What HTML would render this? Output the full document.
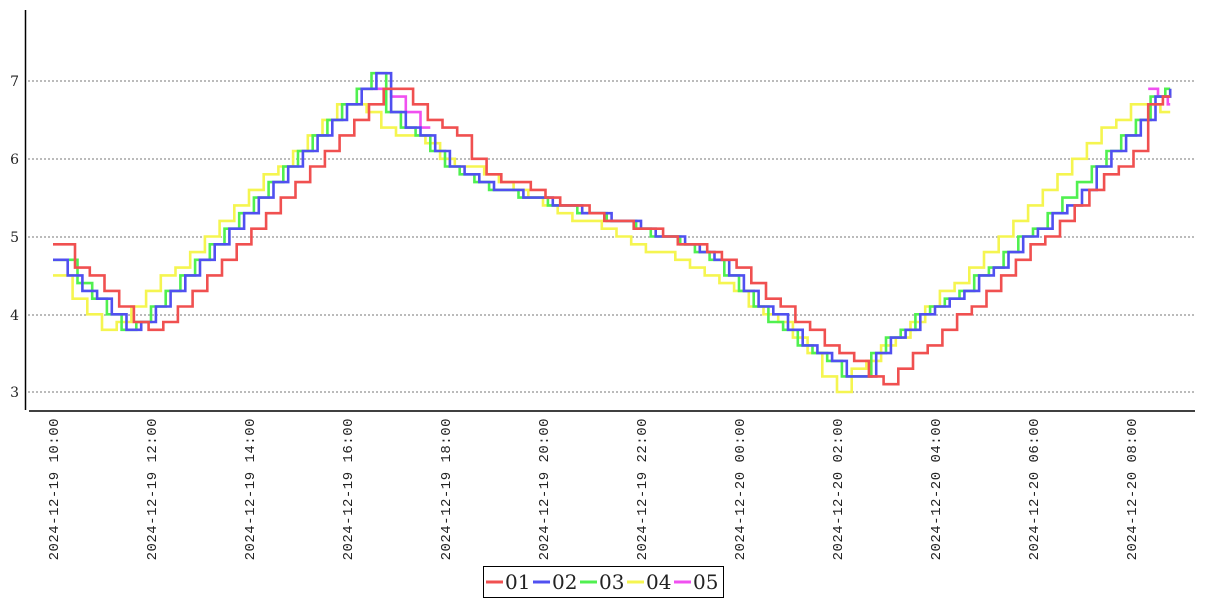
<!DOCTYPE html>
<html><head><meta charset="utf-8"><style>
html,body{margin:0;padding:0;background:#fff;}
svg{display:block;font-family:"DejaVu Serif","Liberation Serif",serif;}
</style></head><body>
<svg id="s" width="1207" height="600" viewBox="0 0 1207 600">
<g stroke="#777" stroke-width="1" stroke-dasharray="2,2">
<line x1="28" y1="81" x2="1195" y2="81"/><line x1="28" y1="159" x2="1195" y2="159"/>
<line x1="28" y1="237" x2="1195" y2="237"/><line x1="28" y1="315" x2="1195" y2="315"/>
<line x1="28" y1="392" x2="1195" y2="392"/></g>
<g font-size="14" fill="#222" text-anchor="end">
<text x="19" y="86">7</text><text x="19" y="164">6</text><text x="19" y="242">5</text><text x="19" y="320">4</text><text x="19" y="397">3</text></g>
<line x1="25.5" y1="10" x2="25.5" y2="410" stroke="#000" stroke-width="1.5"/>
<line x1="29" y1="411" x2="1195" y2="411" stroke="#000" stroke-width="1.5"/>
<g id="lines" fill="none" stroke-width="2.6" stroke-linejoin="miter"></g>
<g id="xl" font-size="14" fill="#222" text-anchor="end" style="font-family:'Liberation Mono',monospace;letter-spacing:0.5px"></g>
<rect x="483.5" y="566.5" width="240" height="31" fill="#fff" stroke="#000"/>
<g font-size="20" fill="#222">
<line x1="486" y1="582" x2="503" y2="582" stroke="#f05050" stroke-width="3"/><text x="505" y="589">01</text>
<line x1="533" y1="582" x2="550" y2="582" stroke="#5050f0" stroke-width="3"/><text x="552" y="589">02</text>
<line x1="580" y1="582" x2="597" y2="582" stroke="#50f050" stroke-width="3"/><text x="599" y="589">03</text>
<line x1="627" y1="582" x2="644" y2="582" stroke="#f5f550" stroke-width="3"/><text x="646" y="589">04</text>
<line x1="674" y1="582" x2="691" y2="582" stroke="#f050f0" stroke-width="3"/><text x="693" y="589">05</text>
</g>
</svg>
<script>
var NS="http://www.w3.org/2000/svg";
function X(t){return 53+t*49;}
function Y(v){return 392-(v-3)*77.75;}
var labels=["2024-12-19 10:00","2024-12-19 12:00","2024-12-19 14:00","2024-12-19 16:00","2024-12-19 18:00","2024-12-19 20:00","2024-12-19 22:00","2024-12-20 00:00","2024-12-20 02:00","2024-12-20 04:00","2024-12-20 06:00","2024-12-20 08:00"];
var xl=document.getElementById("xl");
labels.forEach(function(l,i){var x=X(i*2);var t=document.createElementNS(NS,"text");t.setAttribute("transform","translate("+(x+5)+",418) rotate(-90)");t.textContent=l;xl.appendChild(t);});
function interp(k,t){if(t<=k[0][0])return k[0][1];for(var i=1;i<k.length;i++){if(t<=k[i][0]){var a=k[i-1],b=k[i];return a[1]+(b[1]-a[1])*(t-a[0])/(b[0]-a[0]);}}return k[k.length-1][1];}
var blue=[[0,4.7],[1.5,3.8],[1.8,3.9],[6.5,7.0],[6.6,7.1],[6.7,6.9],[7.0,6.5],[7.6,6.3],[8.2,5.8],[9.7,5.5],[11.7,5.2],[13.3,4.8],[15.3,3.6],[15.9,3.4],[16.0,3.2],[16.5,3.2],[16.6,3.4],[17.8,4.0],[18.8,4.4],[20.8,5.5],[22.2,6.5],[22.5,6.8],[22.65,7.1],[22.8,6.9]];
var red=[[0,4.9],[1.9,3.8],[2.2,3.9],[6.9,7.0],[7.1,6.8],[7.6,6.5],[8.3,6.3],[8.6,5.9],[10,5.5],[12,5.1],[13.5,4.8],[15.2,3.9],[15.9,3.5],[16.3,3.4],[16.6,3.4],[16.7,3.1],[16.9,3.0],[17.0,3.2],[17.5,3.45],[18.7,4.1],[21,5.5],[22.2,6.2],[22.4,6.8],[22.8,6.8]];
var yellow=[[0,4.5],[1.0,3.8],[1.3,3.9],[6.0,6.8],[6.3,6.6],[6.8,6.4],[7.5,6.2],[8.0,6.0],[10,5.4],[13,4.6],[14.6,4.0],[15.4,3.5],[15.7,3.2],[15.8,3.0],[16.0,3.0],[16.2,3.2],[17.7,4.0],[22.1,6.8],[22.5,6.7],[22.8,6.5]];
var green=blue.map(function(p){return [p[0]-0.12,p[1]];});green[0]=[0,4.7];
var series=[
 {c:"#f050f0",k:[[6.3,6.9],[6.8,6.9],[7.0,6.7],[7.3,6.5],[7.7,6.2]],a:6.3,b:7.7,st:0.3,ph:0},
 {c:"#f050f0",k:[[22.35,6.9],[22.8,6.7]],a:22.35,b:22.8,st:0.2,ph:0},
 {c:"#f5f550",k:yellow,a:0,b:22.8,st:0.3,ph:0.1},
 {c:"#50f050",k:green,a:0,b:22.8,st:0.3,ph:0.2},
 {c:"#5050f0",k:blue,a:0,b:22.8,st:0.3,ph:0},
 {c:"#f05050",k:red,a:0,b:22.8,st:0.3,ph:0.15}];
var g=document.getElementById("lines");
series.forEach(function(s){var ts=[s.a];for(var t=s.a+s.ph+s.st;t<=s.b+1e-6;t+=s.st)ts.push(t);
 var d="",prev=null;ts.forEach(function(t){var v=Math.round(interp(s.k,t)*10)/10;
 var x=X(t).toFixed(1),y=Y(v).toFixed(1);if(prev===null)d="M"+x+" "+y;else if(v!==prev){d+="H"+x+"V"+y;}prev=v;});
 d+="H"+X(s.b).toFixed(1);
var p=document.createElementNS(NS,"path");p.setAttribute("d",d);p.setAttribute("stroke",s.c);g.appendChild(p);});
</script>
</body></html>
